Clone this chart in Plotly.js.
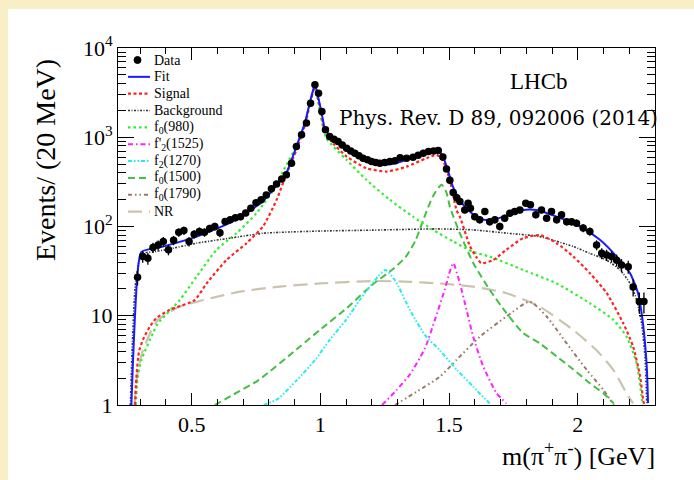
<!DOCTYPE html>
<html>
<head>
<meta charset="utf-8">
<script src="https://cdn.plot.ly/plotly-3.0.1.min.js"></script>
<style>
html,body{margin:0;padding:0;width:694px;height:480px;overflow:hidden;background:#f8efc6;}
#panel{position:absolute;left:8px;top:9px;right:0;bottom:0;background:#ffffff;}
#chart{position:absolute;left:0;top:0;width:694px;height:480px;}
</style>
</head>
<body>
<div id="panel"></div>
<div id="chart"></div>
<script>
// ---- Data points (m in GeV, events / 20 MeV) ----
const dataMass = [0.29,0.31,0.33,0.35,0.37,0.39,0.41,0.43,0.45,0.47,0.49,0.51,0.53,0.55,0.57,0.59,0.61,0.63,0.65,0.67,0.69,0.71,0.73,0.75,0.77,0.79,0.81,0.83,0.85,0.868,0.888,0.907,0.927,0.946,0.962,0.979,0.993,1.006,1.02,1.036,1.053,1.069,1.085,1.102,1.118,1.134,1.15,1.166,1.183,1.199,1.215,1.231,1.25,1.27,1.29,1.31,1.335,1.36,1.38,1.40,1.42,1.44,1.458,1.476,1.49,1.503,1.516,1.53,1.542,1.561,1.574,1.583,1.60,1.619,1.639,1.658,1.678,1.697,1.716,1.736,1.755,1.775,1.798,1.816,1.837,1.859,1.879,1.898,1.918,1.937,1.957,1.976,1.995,2.021,2.047,2.073,2.093,2.112,2.131,2.151,2.17,2.196,2.215,2.239,2.257];
const dataEvents = [27,46,44,58,62,68,55,70,86,90,68,82,88,86,95,100,85,114,119,125,129,142,160,184,200,226,265,300,340,379,512,787,1064,1440,2410,3870,3120,1942,1211,1018,950,895,820,755,700,663,620,583,560,534,520,512,520,534,545,590,583,598,630,663,691,700,709,600,440,330,240,210,190,153,182,160,129,119,147,113,119,100,124,141,147,153,182,175,135,153,124,147,119,135,113,113,109,96,88,62,50,48,46,42,37,35.5,21,14.4,14.4];

// ---- Fit ----
const fitMass = [0.266,0.272,0.28,0.29,0.305,0.388,0.519,0.648,0.713,0.776,0.83,0.868,0.907,0.94,0.959,0.979,0.991,1.005,1.017,1.048,1.102,1.165,1.231,1.296,1.359,1.426,1.457,1.476,1.495,1.515,1.549,1.587,1.62,1.65,1.697,1.787,1.84,1.918,2.008,2.086,2.151,2.203,2.234,2.253,2.268,2.273];
const fitEvents = [1,3,10,30,52,59.5,77,110,142,190,290,400,787,1450,2430,3870,2860,1877,1275,935,722,558,491,516,588,668,709,608,431,280,184,142,122,118,125,153,153,129,100,71,46,30,18,8.3,2.7,1.05];

// ---- Signal ----
const sigMass = [0.28,0.285,0.296,0.311,0.337,0.363,0.414,0.512,0.558,0.635,0.713,0.777,0.83,0.87,0.907,0.94,0.959,0.979,0.991,1.005,1.017,1.05,1.102,1.179,1.258,1.335,1.413,1.452,1.477,1.503,1.529,1.542,1.568,1.581,1.607,1.625,1.671,1.723,1.788,1.853,1.918,1.983,2.047,2.112,2.177,2.215,2.242,2.254,2.258];
const sigEvents = [1,2,4,5.4,7.5,9.4,11.6,15,23,42,65,100,199,400,720,1350,2300,3700,2700,1750,1159,850,608,450,413,469,583,635,540,330,153,129,77,60,45,38.8,42,55,74,80,65,46,30,18,8.2,4.5,2.1,1.14,1];

// ---- Background ----
const bkgMass = [0.262,0.27,0.28,0.295,0.31,0.35,0.402,0.519,0.648,0.777,0.842,1.0,1.2,1.45,1.593,1.723,1.853,1.983,2.047,2.112,2.164,2.203,2.229,2.248,2.261,2.268];
const bkgEvents = [1,5,20,40,50,52,55,65,74,84,86,89,91,94,91.6,84.3,77,59.5,50,42,32.6,23,15,8.2,3.5,1.05];

// ---- f0(980) ----
const f0980Mass = [0.283,0.29,0.305,0.35,0.369,0.454,0.519,0.597,0.674,0.752,0.817,0.87,0.907,0.94,0.959,0.979,1.0,1.023,1.102,1.179,1.27,1.36,1.438,1.516,1.594,1.658,1.788,1.918,2.047,2.138,2.19,2.229,2.248,2.252];
const f0980Events = [1,2,3.2,6.4,8.2,15,27.4,55,84,141,257,500,800,1450,2350,3700,1800,977,558,333,199,129,91.6,68,52,46,32.6,23,13.8,9,5.8,2.9,1.24,1];

// ---- f2'(1525) ----
const f2p1525Mass = [1.24,1.296,1.348,1.406,1.445,1.483,1.516,1.542,1.568,1.594,1.633,1.685,1.723];
const f2p1525Events = [1,1.47,2.2,4.3,9,19.5,38.8,23,11.6,5.8,2.7,1.35,1.04];

// ---- f2(1270) ----
const f21270Mass = [0.78,0.835,0.909,0.98,1.037,1.1,1.153,1.212,1.252,1.29,1.348,1.406,1.464,1.529,1.594,1.658];
const f21270Events = [1,1.17,1.9,3.2,5.4,9,15,25,32.6,25,11.6,6.1,4.1,2.5,1.6,1.04];

// ---- f0(1500) ----
const f01500Mass = [0.59,0.66,0.76,0.92,1.0,1.1,1.2,1.28,1.33,1.37,1.40,1.438,1.471,1.49,1.503,1.542,1.594,1.658,1.723,1.788,1.853,1.918,1.983,2.047,2.1,2.14];
const f01500Events = [1,1.3,1.9,4.5,7,12,22,33,45,70,119,220,293,240,167,84,39,19.5,10.7,6.4,4.9,3.5,2.5,1.75,1.35,1.04];

// ---- f0(1790) ----
const f01790Mass = [1.29,1.374,1.464,1.529,1.619,1.723,1.814,1.879,1.957,2.035,2.1,2.14];
const f01790Events = [1,1.41,2.07,3.2,5.8,9.8,14.4,9.8,4.9,2.47,1.47,1.0];

// ---- NR ----
const nrMass = [0.278,0.292,0.311,0.344,0.37,0.45,0.545,0.687,0.842,1.0,1.2,1.35,1.464,1.594,1.723,1.853,1.983,2.073,2.138,2.19,2.215];
const nrEvents = [1,2.5,4.1,6.9,9,12.5,15,18.6,21.2,23,24.5,24,23,21.2,17.9,12.6,6.9,4.1,2.47,1.35,1.04];

// legend labels in the order of the reference legend
const legendLabels = ['Data', 'Fit', 'Signal', 'Background', 'f<sub>0</sub>(980)', "f'<sub>2</sub>(1525)",
  'f<sub>2</sub>(1270)', 'f<sub>0</sub>(1500)', 'f<sub>0</sub>(1790)', 'NR'];

// styles (same order as legend)
const styles = [
  null,
  {color: '#1a1aff', dash: 'solid', width: 2},
  {color: '#ff2222', dash: '3px,2.5px', width: 2.2},
  {color: '#333333', dash: '2px,1.5px,1px,1.5px', width: 1.6},
  {color: '#33ee33', dash: '2.5px,3px', width: 2.2},
  {color: '#ff22ff', dash: '5px,3px,1.5px,3px', width: 2},
  {color: '#22eeee', dash: '4px,2px,1.5px,2px,1.5px,2px', width: 2},
  {color: '#44c044', dash: '7px,4px', width: 2},
  {color: '#9a7a6a', dash: '4px,3px,1.5px,3px,1.5px,3px', width: 2},
  {color: '#cbc3ad', dash: '14px,7px', width: 2.2}
];

function curve(x, y, idx) {
  return {x: x, y: y, name: legendLabels[idx], type: 'scatter', mode: 'lines',
    line: {color: styles[idx].color, dash: styles[idx].dash, width: styles[idx].width,
           shape: 'spline', smoothing: 0.6},
    showlegend: false, hoverinfo: 'skip'};
}

const traces = [
  curve(nrMass, nrEvents, 9),
  curve(f01790Mass, f01790Events, 8),
  curve(f01500Mass, f01500Events, 7),
  curve(f21270Mass, f21270Events, 6),
  curve(f2p1525Mass, f2p1525Events, 5),
  curve(f0980Mass, f0980Events, 4),
  curve(bkgMass, bkgEvents, 3),
  curve(sigMass, sigEvents, 2),
  curve(fitMass, fitEvents, 1),
  {x: dataMass, y: dataEvents, name: 'Data', type: 'scatter', mode: 'markers',
   marker: {color: 'black', size: 7.5},
   error_y: {type: 'sqrt', color: 'black', thickness: 1.3, width: 0},
   showlegend: false, hoverinfo: 'skip'}
];

const serif = 'Liberation Serif, Times New Roman, serif';

// custom legend (paper coordinates), rows 16.8 px apart
const plotL = 118, plotT = 48, plotW = 537, plotH = 357;
const px2x = p => (p - plotL) / plotW;
const py2y = p => (plotT + plotH - p) / plotH;
const legShapes = [];
const legAnn = [];
legendLabels.forEach((lab, i) => {
  const rowY = py2y(60 + 16.85 * i);
  legAnn.push({text: lab, xref: 'paper', yref: 'paper', x: px2x(152), y: rowY,
    xanchor: 'left', yanchor: 'middle', showarrow: false,
    font: {family: serif, size: 14, color: 'black'}});
  if (i === 0) {
    legShapes.push({type: 'circle', xref: 'paper', yref: 'paper',
      x0: px2x(134), x1: px2x(141), y0: rowY - 3.5 / plotH, y1: rowY + 3.5 / plotH,
      fillcolor: 'black', line: {color: 'black', width: 1}});
  } else {
    legShapes.push({type: 'line', xref: 'paper', yref: 'paper',
      x0: px2x(128), x1: px2x(150), y0: rowY, y1: rowY,
      line: {color: styles[i].color, dash: styles[i].dash, width: styles[i].width}});
  }
});

const layout = {
  width: 694, height: 480,
  margin: {l: 118, r: 39, t: 48, b: 75},
  paper_bgcolor: 'rgba(0,0,0,0)',
  plot_bgcolor: '#ffffff',
  showlegend: false,
  xaxis: {type: 'linear', range: [0.214, 2.30], tick0: 0, dtick: 0.5,
    ticks: 'inside', ticklen: 12, tickwidth: 1, tickcolor: 'black',
    showline: true, linecolor: 'black', linewidth: 1, mirror: 'ticks',
    showgrid: false, zeroline: false,
    minor: {ticks: 'inside', ticklen: 6, dtick: 0.1, tickcolor: 'black', showgrid: false},
    tickfont: {family: serif, size: 22, color: 'black'}},
  yaxis: {type: 'log', range: [0, 4],
    tickmode: 'array', tickvals: [1, 10, 100, 1000, 10000],
    ticktext: ['1', '10', '10<sup>2</sup>', '10<sup>3</sup>', '10<sup>4</sup>'],
    ticks: 'inside', ticklen: 16, tickwidth: 1, tickcolor: 'black',
    showline: true, linecolor: 'black', linewidth: 1, mirror: 'ticks',
    showgrid: false, zeroline: false,
    minor: {ticks: 'inside', ticklen: 8, dtick: 'D1', tickcolor: 'black', showgrid: false},
    tickfont: {family: serif, size: 22, color: 'black'}},
  shapes: legShapes,
  annotations: [
    {text: 'Events/ (20 MeV)', xref: 'paper', yref: 'paper', x: -0.136, y: 0.686,
     textangle: -90, showarrow: false, xanchor: 'center', yanchor: 'middle',
     font: {family: serif, size: 28, color: 'black'}},
    {text: 'm(π<sup>+</sup>π<sup>-</sup>) [GeV]', xref: 'paper', yref: 'paper', x: 1.004, y: -0.14,
     showarrow: false, xanchor: 'right', yanchor: 'middle',
     font: {family: serif, size: 26, color: 'black'}},
    {text: 'LHCb', xref: 'paper', yref: 'paper', x: 0.784, y: 0.905,
     showarrow: false, xanchor: 'center', yanchor: 'middle',
     font: {family: serif, size: 23, color: 'black'}},
    {text: 'Phys. Rev. D 89, 092006 (2014)', xref: 'paper', yref: 'paper', x: 1.0093, y: 0.804,
     showarrow: false, xanchor: 'right', yanchor: 'middle',
     font: {family: 'DejaVu Serif, serif', size: 20, color: 'black'}}
  ].concat(legAnn)
};

Plotly.newPlot('chart', traces, layout, {displayModeBar: false, staticPlot: true});
</script>
</body>
</html>
